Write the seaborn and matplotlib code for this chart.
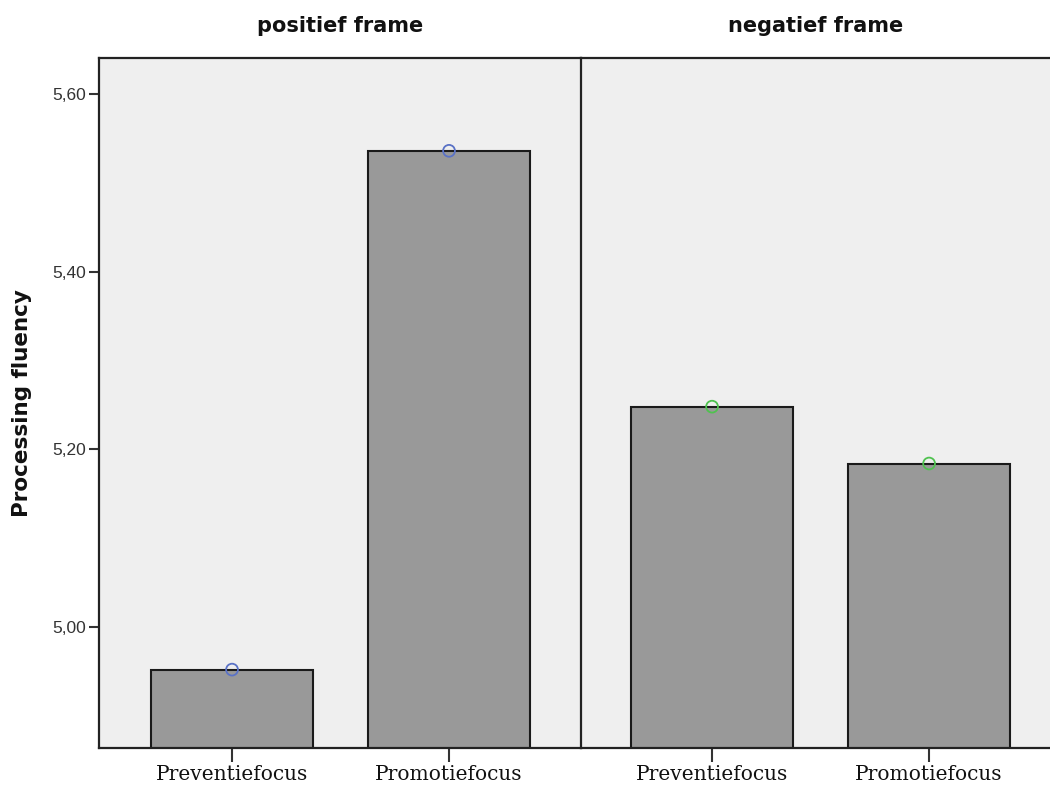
import matplotlib
matplotlib.use("Agg")
import matplotlib.pyplot as plt
import matplotlib.ticker as mticker
import pandas as pd
import seaborn as sns

# values
frames = ["positief frame", "negatief frame"]
focus = ["Preventiefocus", "Promotiefocus"]
positief_means = [4.952, 5.536]
negatief_means = [5.248, 5.184]
marker_colors = ["#5a72c6", "#4fc24f"]
y_ticks = [5.00, 5.20, 5.40, 5.60]

df = pd.DataFrame({
    "frame": [frames[0]] * 2 + [frames[1]] * 2,
    "focus": focus * 2,
    "mean": positief_means + negatief_means,
})

sns.set_style("white")
plt.rcParams["font.family"] = ["DejaVu Sans"]

fig = plt.figure(figsize=(10.5, 7.91), dpi=100)
bottom, height = 0.0544, 0.8723
ax1 = fig.add_axes([0.0943, bottom, 0.459, height])
ax2 = fig.add_axes([0.5533, bottom, 0.4467, height], sharey=ax1)
xlims = [(-0.613, 1.608), (-0.604, 1.557)]

for i, (ax, frame) in enumerate(zip([ax1, ax2], frames)):
    sub = df[df["frame"] == frame]
    ax.set_facecolor("#efefef")
    sns.barplot(data=sub, x="focus", y="mean", color="#999999", saturation=1,
                edgecolor="#1a1a1a", linewidth=1.5, width=0.75, ax=ax)
    sns.stripplot(data=sub, x="focus", y="mean", jitter=False, size=8.5,
                  color=marker_colors[i], ax=ax, zorder=5)
    for coll in ax.collections:
        coll.set_facecolor("none")
        coll.set_edgecolor(marker_colors[i])
        coll.set_linewidth(1.3)
    ax.set_xlim(*xlims[i])
    ax.set_xlabel("")
    ax.set_title(frame, fontsize=15, fontweight="bold", color="#111111",
                 family="DejaVu Sans", pad=19)
    for s in ["top", "bottom", "left"]:
        ax.spines[s].set_visible(True)
        ax.spines[s].set_color("#222222")
        ax.spines[s].set_linewidth(1.6)
    ax.spines["right"].set_visible(False)
    ax.tick_params(axis="x", direction="out", length=10, width=1.5,
                   color="#333333", pad=2, bottom=True)
    for lbl in ax.get_xticklabels():
        lbl.set_family("DejaVu Serif")
        lbl.set_fontsize(14.5)
        lbl.set_color("#111111")

ax1.set_ylim(4.8638, 5.6405)
ax1.set_yticks(y_ticks)
ax1.yaxis.set_major_formatter(
    mticker.FuncFormatter(lambda v, p: f"{v:.2f}".replace(".", ",")))
ax1.tick_params(axis="y", direction="out", length=7, width=1.5,
                color="#333333", labelsize=12.5, labelcolor="#333333",
                left=True, pad=2)
for lbl in ax1.get_yticklabels():
    lbl.set_family("Liberation Sans")
ax1.set_ylabel("Processing fluency", fontsize=15.5, fontweight="bold",
               color="#111111", family="DejaVu Sans", labelpad=15)
ax2.set_ylabel("")
ax2.tick_params(axis="y", left=False, labelleft=False)

fig.savefig("out.png", dpi=100)
